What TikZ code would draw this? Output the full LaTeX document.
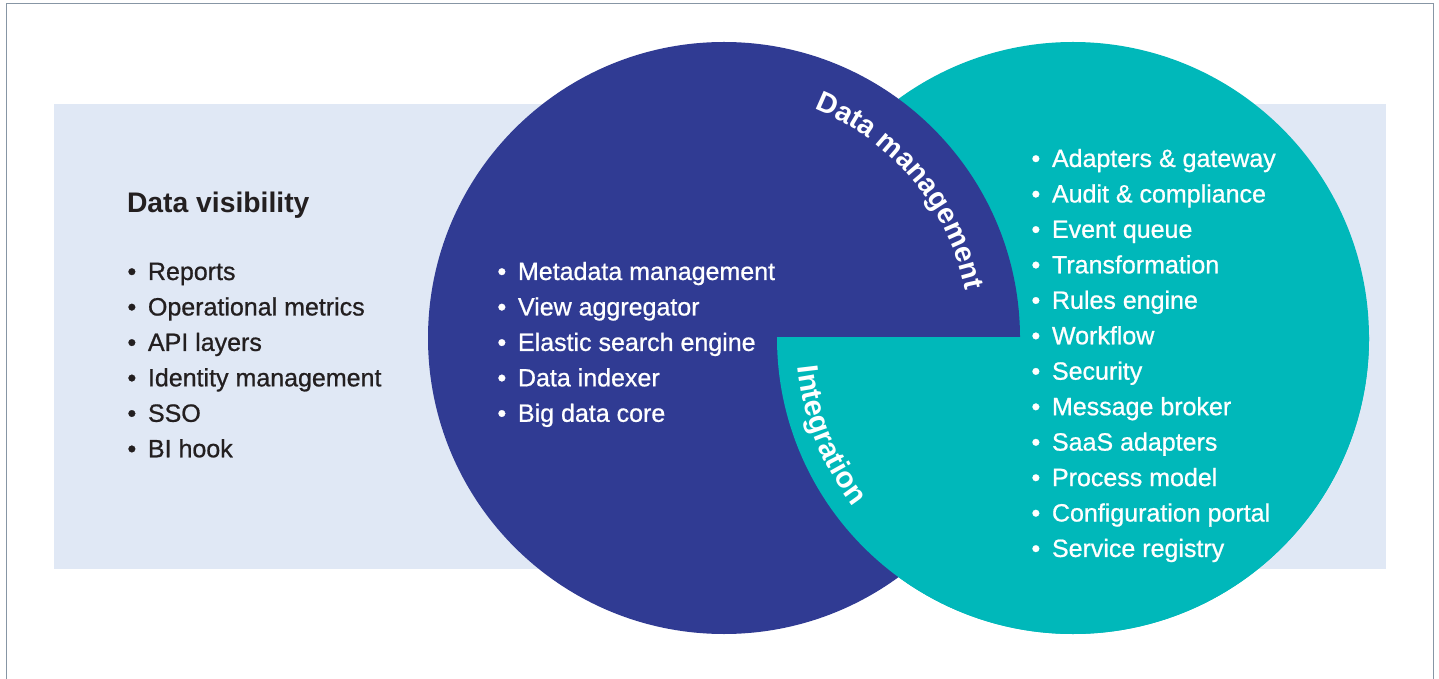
\documentclass[tikz,border=0pt]{standalone}
\usepackage{fontspec}
\setmainfont{Liberation Sans}
\newfontfamily\medfont[FakeBold=0.8]{Liberation Sans}
\usetikzlibrary{decorations.text}
\definecolor{navy}{HTML}{303B93}
\definecolor{tealc}{HTML}{00B8BA}
\definecolor{bandc}{HTML}{E0E8F5}
\definecolor{framec}{HTML}{8796A5}
\definecolor{darktext}{HTML}{231F20}
\tikzset{
  item/.style={anchor=base west, inner sep=0pt, outer sep=0pt, font=\medfont\fontsize{25}{29}\selectfont},
  darkitem/.style={item, text=darktext},
  lightitem/.style={item, text=white},
  heading/.style={anchor=base west, inner sep=0pt, outer sep=0pt, text=darktext, font=\bfseries\fontsize{28.3}{32}\selectfont},
  arclabel/.style={decorate, decoration={text along path, text align=left}}
}
\newcommand{\bul}[1]{\makebox[20.5pt][l]{•}#1}
\begin{document}
\begin{tikzpicture}[x=1pt,y=1pt]
\useasboundingbox (0,0) rectangle (1439,678);
\fill[white] (0,0) rectangle (1439,678);
% band
\fill[bandc] (54,109) rectangle (1386,574);
% frame (open at bottom)
\draw[framec, line width=1.4pt] (6.5,-5) -- (6.5,674.5) -- (1433.5,674.5) -- (1433.5,-5);
% circles
\coordinate (nc) at (724,340);
\coordinate (tc) at (1073,340);
\fill[tealc] (tc) circle[radius=296];
\fill[navy] (nc) circle[radius=296];
\begin{scope}
  \clip (0,0) rectangle (1439,340);
  \fill[tealc] (tc) circle[radius=296];
\end{scope}
% curved labels
\path[arclabel, decoration={text={|\color{white}\bfseries\fontsize{28.6}{31}\selectfont|Data management}}]
  ([shift={(68.5:246)}]nc) arc[start angle=68.5, end angle=0, radius=246];
\path[arclabel, decoration={text={|\color{white}\bfseries\fontsize{29.5}{31}\selectfont|Integration}}]
  ([shift={(186:277)}]tc) arc[start angle=186, end angle=240, radius=277];
% left column
\node[heading] (head) at (127,465) {Data visibility};
\foreach \t [count=\i] in {Reports, Operational metrics, API layers, Identity management, SSO, BI hook}
  \node[darkitem] (L\i) at (127.5, 398-35.45*\i+35.45) {\bul{\t}};
% middle column
\foreach \t [count=\i] in {Metadata management, View aggregator, Elastic search engine, Data indexer, Big data core}
  \node[lightitem] (M\i) at (497.5, 398-35.45*\i+35.45) {\bul{\t}};
% right column
\foreach \t [count=\i] in {Adapters \& gateway, Audit \& compliance, Event queue, Transformation, Rules engine, Workflow, Security, Message broker, SaaS adapters, Process model, Configuration portal, Service registry}
  \node[lightitem] (R\i) at (1031.5, 511-35.45*\i+35.45) {\bul{\t}};
\end{tikzpicture}
\end{document}
